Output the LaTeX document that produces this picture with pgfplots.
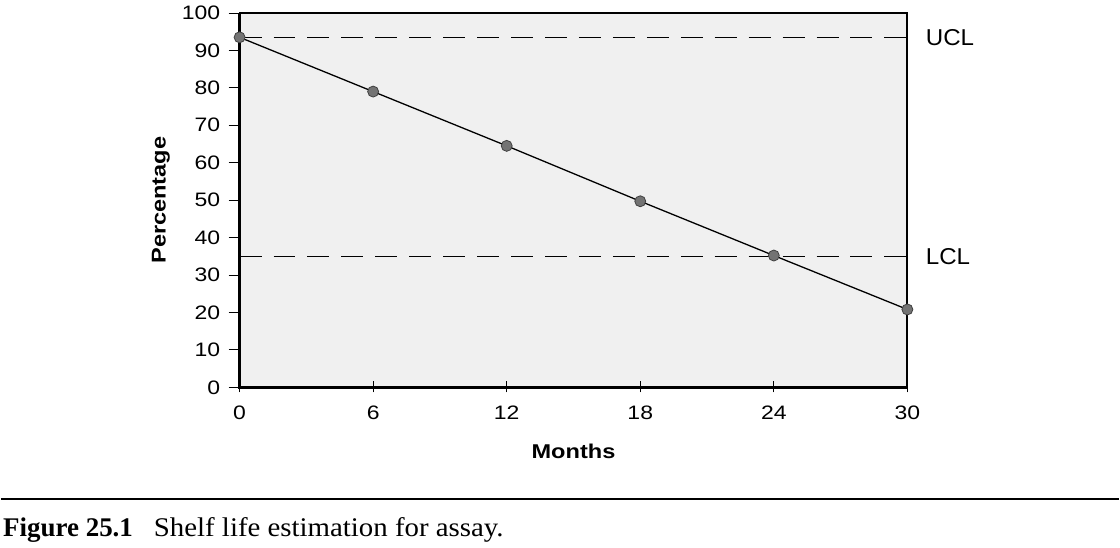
\documentclass[border=0pt]{standalone}
\usepackage{fontspec}
\setmainfont{Liberation Sans}[FakeStretch=1.18]
\newfontfamily\sidefont{Liberation Sans}[FakeStretch=1.05]
\newfontfamily\capfont{Liberation Serif}
\newfontfamily\capwide{Liberation Serif}[FakeStretch=1.07]
\usepackage{pgfplots}
\pgfplotsset{compat=1.18}
\begin{document}
\begin{tikzpicture}[x=1pt,y=1pt]
\path (0,0) rectangle (1120,548);
\begin{axis}[
  at={(239pt,160pt)}, anchor=south west,
  scale only axis, width=669pt, height=375pt,
  xmin=0, xmax=30, ymin=0, ymax=100,
  xtick={0,6,12,18,24,30}, ytick={0,10,...,100},
  xtick pos=left, ytick pos=left,
  tick align=outside, major tick length=11pt,
  every tick/.style={black, line width=0.8pt},
  xtick style={yshift=6pt},
  axis line style={line width=1.8pt},
  axis background/.style={fill=black!6},
  /pgf/number format/assume math mode=true,
  tick label style={font=\fontsize{19.5}{20}\selectfont},
  xticklabel style={yshift=-4pt},
  yticklabel style={xshift=-5pt},
  every axis x label/.style={at={(axis description cs:0.5,-0.171)}, anchor=center},
  every axis y label/.style={at={(axis description cs:-0.118,0.5)}, rotate=90, anchor=center},
  label style={font=\fontsize{20}{22}\selectfont\bfseries},
  xlabel={Months}, ylabel={Percentage},
  clip=false,
]
\draw[line width=3pt] (rel axis cs:0,1) -- (rel axis cs:0,0) -- (rel axis cs:1,0);
\addplot[black, line width=1.2pt, dash pattern=on 22pt off 12pt] coordinates {(0,93.4) (30,93.4)};
\addplot[black, line width=1.2pt, dash pattern=on 22pt off 12pt] coordinates {(0,35) (30,35)};
\addplot[black, line width=1.3pt, mark=*, mark size=5.5pt, mark options={fill=black!55, draw=black!75, line width=0.8pt}] coordinates {
(0,93.5) (6,79) (12,64.5) (18,49.7) (24,35.2) (30,20.8)};
\node[anchor=west, font=\fontsize{23}{24}\selectfont\sidefont] at (rel axis cs:1,0.934) [xshift=15pt] {UCL};
\node[anchor=west, font=\fontsize{23}{24}\selectfont\sidefont] at (rel axis cs:1,0.35) [xshift=15pt] {LCL};
\end{axis}
\draw[line width=2pt] (0,48) -- (1120,48);
\node[anchor=base west, inner sep=0pt, font=\fontsize{27}{30}\selectfont\capfont\bfseries] at (2,11) {Figure 25.1};
\node[anchor=base west, inner sep=0pt, font=\fontsize{27}{30}\selectfont\capwide] at (153,11) {Shelf life estimation for assay.};
\end{tikzpicture}
\end{document}
